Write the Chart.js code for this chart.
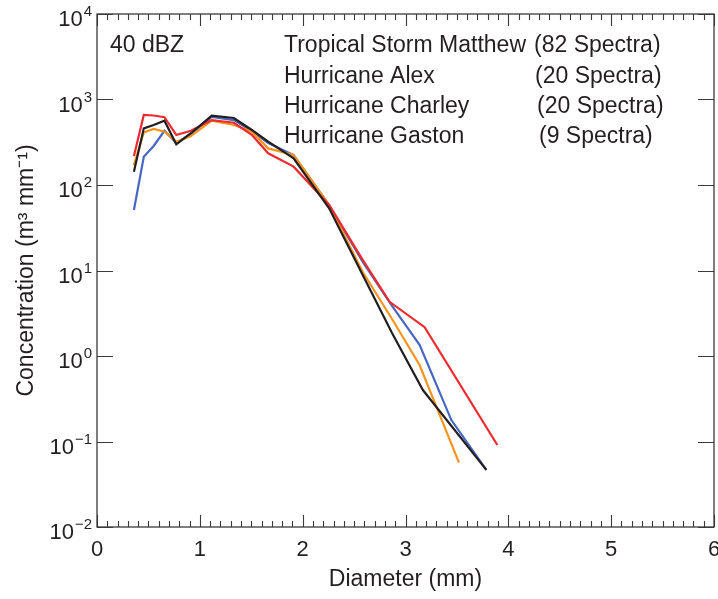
<!DOCTYPE html>
<html>
<head>
<meta charset="utf-8">
<script src="https://cdn.jsdelivr.net/npm/chart.js@4.4.0/dist/chart.umd.min.js"></script>
<style>
  html, body { margin: 0; padding: 0; background: #ffffff; }
  #wrap { width: 718px; height: 599px; position: relative; }
</style>
</head>
<body>
<div id="wrap"><canvas id="c" width="718" height="599"></canvas></div>
<script>
// ---- Data ----
const diaMatthew = [0.359,0.455,0.551,0.656,0.771,0.913,1.116,1.331,1.506,1.665,1.912,2.259,2.584,2.869,3.169,3.786];
const concMatthew = [143,460,503,565,299,403,647,608,440,321,205,53,8.85,1.86,0.40,0.0465];

const diaAlex = [0.359,0.455,0.551,0.656,0.771,0.913,1.116,1.331,1.506,1.665,1.912,2.259,2.584,2.845,3.186,3.893];
const concAlex = [218,659,650,620,385,431,575,535,385,235,164,58,13.3,4.3,2.17,0.091];

const diaCharley = [0.359,0.455,0.551,0.656,0.771,0.913,1.116,1.331,1.506,1.665,1.912,2.259,2.584,2.869,3.137,3.446,3.786];
const concCharley = [51,214,286,431,310,395,624,575,428,310,224,58,12.6,3.85,1.35,0.178,0.0465];

const diaGaston = [0.359,0.455,0.551,0.656,0.771,0.913,1.116,1.331,1.506,1.665,1.912,2.259,2.584,2.869,3.137,3.52];
const concGaston = [171,413,452,420,321,374,565,503,420,268,224,58,9.6,2.71,0.785,0.0565];

const seriesNames = ["Tropical Storm Matthew", "Hurricane Alex", "Hurricane Charley", "Hurricane Gaston"];
const seriesSpectra = ["(82 Spectra)", "(20 Spectra)", "(20 Spectra)", "(9 Spectra)"];
const reflectivityLabel = "40 dBZ";

const xTickValues = [0,1,2,3,4,5,6];
const xTickLabels = ["0","1","2","3","4","5","6"];
const yTickValues = [0.01,0.1,1,10,100,1000,10000];
const yTickBase = "10";
const yTickExponents = ["\u22122","\u22121","0","1","2","3","4"];

const xTitle = "Diameter (mm)";
const yTitle = "Concentration (m\u00B3 mm\u207B\u00B9)";

// ---- helpers ----
function pts(d, c) { return d.map((v, i) => ({ x: v, y: c[i] })); }

const FONT = "'Liberation Sans', Arial, Helvetica, sans-serif";
const TXT = '#231f20';

const frameTicks = {
  id: 'frameTicks',
  afterDatasetsDraw(chart) {
    const { ctx, chartArea: a, scales: { x, y } } = chart;
    ctx.save();
    ctx.strokeStyle = '#3a3a3a';
    ctx.lineWidth = 1.3;
    ctx.strokeRect(a.left, a.top, a.right - a.left, a.bottom - a.top);
    ctx.lineWidth = 1.1;
    ctx.beginPath();
    for (let i = 0; i <= 60; i++) {
      const px = Math.round(x.getPixelForValue(i / 10)) + 0.5;
      const len = (i % 10 === 0) ? 12 : 6;
      ctx.moveTo(px, a.bottom); ctx.lineTo(px, a.bottom - len);
      ctx.moveTo(px, a.top); ctx.lineTo(px, a.top + len);
    }
    yTickValues.forEach(v => {
      const py = Math.round(y.getPixelForValue(v)) + 0.5;
      ctx.moveTo(a.left, py); ctx.lineTo(a.left + 16, py);
      ctx.moveTo(a.right, py); ctx.lineTo(a.right - 16, py);
    });
    ctx.stroke();

    // y tick labels with real superscripts
    ctx.fillStyle = TXT;
    ctx.textAlign = 'left';
    ctx.textBaseline = 'alphabetic';
    const rightX = a.left - 5;
    yTickValues.forEach((v, i) => {
      const py = y.getPixelForValue(v);
      ctx.font = '22px ' + FONT;
      const wb = ctx.measureText(yTickBase).width;
      ctx.font = '15px ' + FONT;
      const we = ctx.measureText(yTickExponents[i]).width;
      const x0 = rightX - wb - we - 1;
      ctx.font = '22px ' + FONT;
      ctx.fillText(yTickBase, x0, py + 12);
      ctx.font = '15px ' + FONT;
      ctx.fillText(yTickExponents[i], x0 + wb + 1, py + 2);
    });
    ctx.restore();
  }
};

const legendText = {
  id: 'legendText',
  afterDraw(chart) {
    const { ctx } = chart;
    ctx.save();
    ctx.fillStyle = TXT;
    ctx.font = '23px ' + FONT;
    ctx.textBaseline = 'middle';
    ctx.textAlign = 'left';
    ctx.fillText(reflectivityLabel, 110, 46);
    const rowsY = [46, 77, 107, 137];
    const specX = [534, 535, 537, 539];
    seriesNames.forEach((n, i) => {
      ctx.fillText(n, 284, rowsY[i]);
      ctx.fillText(seriesSpectra[i], specX[i], rowsY[i]);
    });
    ctx.restore();
  }
};

const ds = (label, d, c, color) => ({
  label, data: pts(d, c), borderColor: color, backgroundColor: color,
  borderWidth: 2.2, pointRadius: 0, tension: 0, fill: false, showLine: true
});

new Chart(document.getElementById('c'), {
  type: 'line',
  data: {
    datasets: [
      ds(seriesNames[0], diaMatthew, concMatthew, '#231f20'),
      ds(seriesNames[1], diaAlex, concAlex, '#ee2a2e'),
      ds(seriesNames[2], diaGaston, concGaston, '#f7941d'),
      ds(seriesNames[3], diaCharley, concCharley, '#4768c2')
    ]
  },
  options: {
    responsive: false,
    animation: false,
    devicePixelRatio: 1,
    layout: { padding: { top: 14, right: 4, bottom: 0, left: 0 } },
    plugins: { legend: { display: false }, tooltip: { enabled: false } },
    scales: {
      x: {
        type: 'linear', min: 0, max: 6,
        grid: { display: false, drawTicks: false },
        border: { display: false },
        afterBuildTicks(s) { s.ticks = xTickValues.map(v => ({ value: v })); },
        afterFit(s) { s.height = 72; s.paddingLeft = 0; s.paddingRight = 0; },
        ticks: {
          autoSkip: false, maxRotation: 0, padding: 10, color: TXT,
          font: { family: FONT, size: 22 },
          callback: (v) => xTickLabels[xTickValues.indexOf(v)]
        },
        title: { display: true, text: xTitle, color: TXT, font: { family: FONT, size: 23 }, padding: { top: 0, bottom: 6 } }
      },
      y: {
        type: 'logarithmic', min: 0.01, max: 10000,
        grid: { display: false, drawTicks: false },
        border: { display: false },
        afterBuildTicks(s) { s.ticks = yTickValues.map(v => ({ value: v })); },
        afterFit(s) { s.width = 97; s.paddingTop = 0; s.paddingBottom = 0; },
        ticks: { display: false },
        title: { display: true, text: yTitle, color: TXT, font: { family: FONT, size: 23 }, padding: { top: 13, bottom: 0 } }
      }
    }
  },
  plugins: [frameTicks, legendText]
});
</script>
</body>
</html>
